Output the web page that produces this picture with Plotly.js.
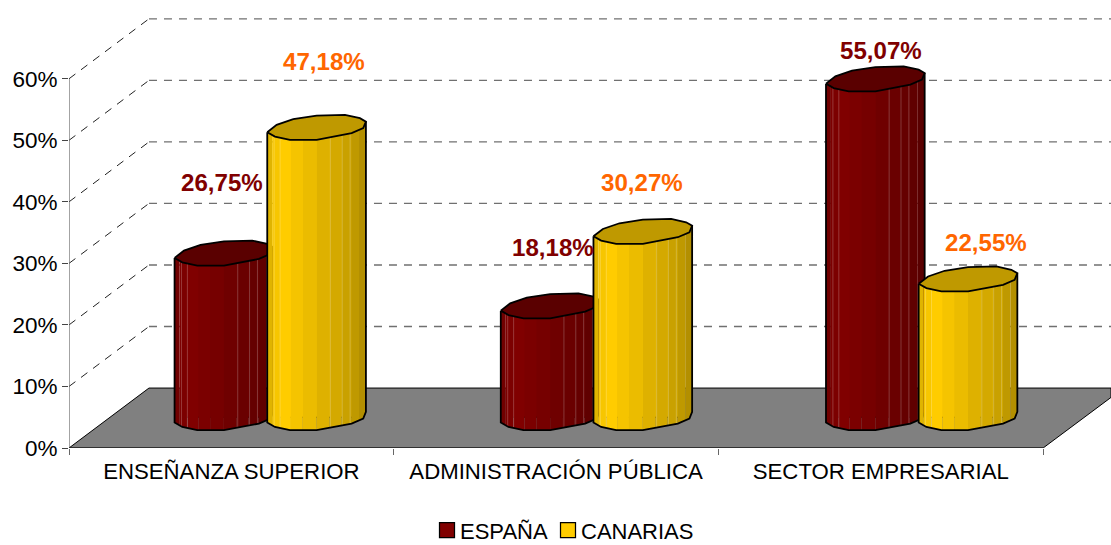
<!DOCTYPE html>
<html><head><meta charset="utf-8">
<script src="https://cdn.plot.ly/plotly-3.0.1.min.js"></script>
<style>html,body{margin:0;padding:0;background:#fff}#c{width:1111px;height:545px}
.legend .legendpoints path,.legend2 .legendpoints path{scale:1.25;translate:2px 0}</style>
</head><body><div id="c"></div>
<script>
// ---- data ----
const categories = ['ENSEÑANZA SUPERIOR', 'ADMINISTRACIÓN PÚBLICA', 'SECTOR EMPRESARIAL'];
const espana = [26.75, 18.18, 55.07];
const canarias = [47.18, 30.27, 22.55];
const espanaLabels = ['26,75%', '18,18%', '55,07%'];
const canariasLabels = ['47,18%', '30,27%', '22,55%'];
const percentTicks = [0, 10, 20, 30, 40, 50, 60];
const percentTickLabels = ['0%', '10%', '20%', '30%', '40%', '50%', '60%'];

// ---- 3D look: scale factors, depth and facet shapes ----
const PXX = 324.8, PXY = 6.16;          // pixels per axis unit
const FONT = '"Liberation Sans", Arial, sans-serif';
const depthX = 80 / PXX, depthY = 60 / PXY;
const baseY = 5;                         // floor level under the cylinders
const barW = 78 / PXX;
const offs = { esp: (224 - 231.4) / PXX, can: (316.7 - 231.4) / PXX };
const groupPos = [0, 1 + 1.5 / PXX, 2 + 2 / PXX];
// faceted top ring, pixels around its centre
const ring = [[-49.4,5.3],[-40,-2],[-23.4,-7.7],[0,-11.3],[28.3,-12],[43.3,-8.7],[49.3,-5.3],[46.6,1.3],[35,6.3],[0,13],[-26.7,13],[-41.7,9.7]];
const lower = [[-49.4,5.3],[-41.7,9.7],[-26.7,13],[0,13],[35,6.3],[46.6,1.3],[49.3,-5.3]];
function lowerAt(dx){
  for(let i=0;i<lower.length-1;i++){
    const a=lower[i],b=lower[i+1];
    if(dx<=b[0]) return a[1]+(b[1]-a[1])*(dx-a[0])/(b[0]-a[0]);
  }
  return lower[lower.length-1][1];
}
const edges = [0,.05,.13,.24,.36,.5,.63,.75,.85,.93,1];
const shades = [.88,.97,1,.96,.92,.87,.83,.79,.75,.70];
const lightLines = [.07,.13,.64,.76,.84];
function shade(rgb,f){return 'rgb('+rgb.map(v=>Math.round(v*f)).join(',')+')';}

function cylinderTraces(values, off, rgb, topColor){
  const out=[];
  const X=(i,dx)=>groupPos[i]+off+dx/PXX, Y=(top,dy)=>top-dy/PXY;
  // facets
  shades.forEach((s,k)=>{
    const a=-49.4+98.7*edges[k], b=-49.4+98.7*edges[k+1];
    const xs=[],ys=[];
    values.forEach((v,i)=>{
      const top=baseY+v;
      const inner=lower.map(p=>p[0]).filter(d=>d>a&&d<b);
      const run=[a,...inner,b];
      xs.push(X(i,a),X(i,b)); ys.push(Y(top,lowerAt(a)),Y(top,lowerAt(b)));
      run.slice().reverse().forEach(d=>{xs.push(X(i,d));ys.push(Y(baseY,lowerAt(d)));});
      xs.push(null);ys.push(null);
    });
    out.push({type:'scatter',mode:'lines',x:xs,y:ys,fill:'toself',fillcolor:shade(rgb,s),line:{width:0,color:shade(rgb,s)},showlegend:false,hoverinfo:'skip'});
  });
  // thin light facet edges
  const lx=[],ly=[];
  values.forEach((v,i)=>lightLines.forEach(f=>{
    const d=-49.4+98.7*f;
    lx.push(X(i,d),X(i,d),null); ly.push(Y(baseY+v,lowerAt(d)),Y(baseY,lowerAt(d)),null);
  }));
  out.push({type:'scatter',mode:'lines',x:lx,y:ly,line:{width:1,color:'rgba(255,255,255,0.22)'},showlegend:false,hoverinfo:'skip'});
  // silhouette
  const ox=[],oy=[];
  values.forEach((v,i)=>{
    ox.push(X(i,lower[0][0]));oy.push(Y(baseY+v,lower[0][1]));
    lower.forEach(p=>{ox.push(X(i,p[0]));oy.push(Y(baseY,p[1]));});
    ox.push(X(i,lower[6][0]),null);oy.push(Y(baseY+v,lower[6][1]),null);
  });
  out.push({type:'scatter',mode:'lines',x:ox,y:oy,line:{width:1.8,color:'#000'},showlegend:false,hoverinfo:'skip'});
  // top caps
  const tx=[],ty=[];
  values.forEach((v,i)=>{
    ring.concat([ring[0]]).forEach(p=>{tx.push(X(i,p[0]));ty.push(Y(baseY+v,p[1]));});
    tx.push(null);ty.push(null);
  });
  out.push({type:'scatter',mode:'lines',x:tx,y:ty,fill:'toself',fillcolor:topColor,line:{width:1.8,color:'#000'},showlegend:false,hoverinfo:'skip'});
  return out;
}

function bar(name,values,off,color,legendId){
  return {type:'bar',name:name,legend:legendId,x:groupPos,y:values,base:baseY,width:barW,offset:off-barW/2,
    marker:{color:color,line:{color:'#000',width:1}},hovertemplate:'%{y}%<extra>'+name+'</extra>'};
}

const data=[
  bar('ESPAÑA',espana,offs.esp,'#800000','legend'),
  bar('CANARIAS',canarias,offs.can,'#FFCC00','legend2'),
  ...cylinderTraces(espana,offs.esp,[128,0,0],'#5A0000'),
  ...cylinderTraces(canarias,offs.can,[255,204,0],'#BF9900')
];

// ---- floor, gridlines and axis lines ----
const xL=-0.5, xR=2.5, xMax=2.709, yMax=72.8;
const shapes=[];
const rightCut=(1111-1043.5)/PXX;
shapes.push({type:'path',layer:'below',xref:'x',yref:'y',
  path:`M${xL},0 L${xL+depthX},${depthY} L${xMax},${depthY} L${xMax},${rightCut*PXX*0.75/PXY} L${xR},0 Z`,
  fillcolor:'#808080',line:{color:'#000',width:1}});
percentTicks.slice(1).forEach(t=>{
  shapes.push({type:'line',layer:'below',xref:'x',yref:'y',x0:xL,y0:t,x1:xL+depthX,y1:t+depthY,line:{color:'#222',width:1,dash:'8px,7px'}});
  shapes.push({type:'line',layer:'below',xref:'x',yref:'y',x0:xL+depthX,y0:t+depthY,x1:xMax,y1:t+depthY,line:{color:'#707070',width:1.3,dash:'8px,7px'}});
});
shapes.push({type:'line',layer:'below',xref:'x',yref:'y',x0:xL,y0:0,x1:xL,y1:60,line:{color:'#666',width:1.2}});
shapes.push({type:'line',layer:'below',xref:'x',yref:'y',x0:xL,y0:0,x1:xR,y1:0,line:{color:'#222',width:1.2}});

// ---- value labels ----
const annos=[];
function addLabels(texts,values,off,color,dx,dy){
  texts.forEach((t,i)=>annos.push({xref:'x',yref:'y',x:groupPos[i]+off,y:baseY+values[i],text:t,showarrow:false,
    xanchor:'center',yanchor:'middle',xshift:dx[i],yshift:dy[i],font:{family:FONT,size:24.1,color:color,weight:'bold'}}));
}
addLabels(espanaLabels,espana,offs.esp,'#800000',[-2,3,6],[70,58,28]);
addLabels(canariasLabels,canarias,offs.can,'#FF6600',[7,-1,18],[65,48,36]);

const legendBase={orientation:'h',xanchor:'left',xref:'container',y:0.027,yanchor:'middle',yref:'container',
  font:{family:FONT,size:22,color:'#000'},bgcolor:'rgba(0,0,0,0)',itemclick:false,itemdoubleclick:false};
const layout={
  width:1111,height:545,paper_bgcolor:'#fff',plot_bgcolor:'rgba(0,0,0,0)',
  margin:{l:69,r:0,t:0,b:96.6,pad:0},barmode:'overlay',shapes:shapes,annotations:annos,
  font:{family:FONT,color:'#000'},
  xaxis:{type:'linear',range:[xL,xMax],tickmode:'array',tickvals:[0,1,2],ticktext:categories,ticks:'',showgrid:false,zeroline:false,showline:false,
    tickfont:{family:FONT,size:22.2,color:'#000'},ticklabelstandoff:8,automargin:false,
    minor:{tickmode:'array',tickvals:[-0.5,0.5,1.5,2.5],ticks:'outside',ticklen:6,tickcolor:'#666',tickwidth:1,showgrid:false}},
  yaxis:{range:[0,yMax],tickmode:'array',tickvals:percentTicks,ticktext:percentTickLabels,ticks:'outside',ticklen:6,tickcolor:'#444',tickwidth:1,automargin:false,
    showgrid:false,zeroline:false,showline:false,tickfont:{family:FONT,size:22.5,color:'#000'}},
  legend:Object.assign({},legendBase,{x:420/1111}),
  legend2:Object.assign({},legendBase,{x:541/1111}),
  showlegend:true
};
Plotly.newPlot('c',data,layout,{displayModeBar:false,responsive:false});
</script></body></html>
